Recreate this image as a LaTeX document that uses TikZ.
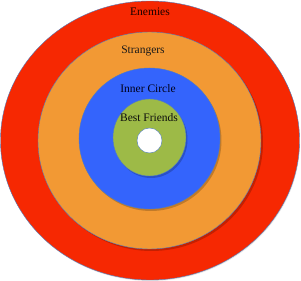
\documentclass[tikz,border=0pt]{standalone}
\usepackage{fontspec}
\setmainfont{Liberation Serif}
\usepackage{tikz}
\definecolor{enemyred}{RGB}{246,40,2}
\definecolor{strangerorange}{RGB}{242,153,52}
\definecolor{innerblue}{RGB}{52,100,252}
\definecolor{friendgreen}{RGB}{157,186,71}
\definecolor{ringedge}{RGB}{80,125,190}

\begin{document}
\begin{tikzpicture}[x=1pt, y=-1pt]
\useasboundingbox (0, 0) rectangle (301, 281);
\fill[black, opacity=0.1] (150.5, 142) ellipse (149.5 and 139);
\filldraw[fill=enemyred, draw=ringedge, thin] (150, 140.5) ellipse (149.5 and 139.5);
\fill[black, opacity=0.2] (151.5, 142.5) ellipse (111.5 and 108.5);
\filldraw[fill=strangerorange, draw=ringedge, thin] (149.5, 140.5) ellipse (111.5 and 108.5);
\fill[black, opacity=0.2] (151, 140.5) ellipse (70.5 and 70.5);
\filldraw[fill=innerblue, draw=ringedge, thin] (149.5, 138.5) ellipse (70.5 and 70.5);
\fill[black, opacity=0.2] (151, 139.5) ellipse (36.5 and 38.5);
\filldraw[fill=friendgreen, draw=ringedge, thin] (149.5, 137.5) ellipse (36.5 and 38.5);
\filldraw[fill=white, draw=ringedge, thin] (149.5, 140.5) ellipse (12.5 and 12.5);
\draw (150, 11.5) node[text=black!90!red, font=\fontsize{11.5}{13}\selectfont](enemies) {Enemies};
\draw (143, 50.5) node[text=black!90, font=\fontsize{11.5}{13}\selectfont](strangers) {Strangers};
\draw (148, 88.5) node[text=black!90!blue, font=\fontsize{11.5}{13}\selectfont](inner) {Inner Circle};
\draw (149, 117.5) node[text=black!95, font=\fontsize{11.5}{13}\selectfont](best) {Best Friends};
\end{tikzpicture}
\end{document}
